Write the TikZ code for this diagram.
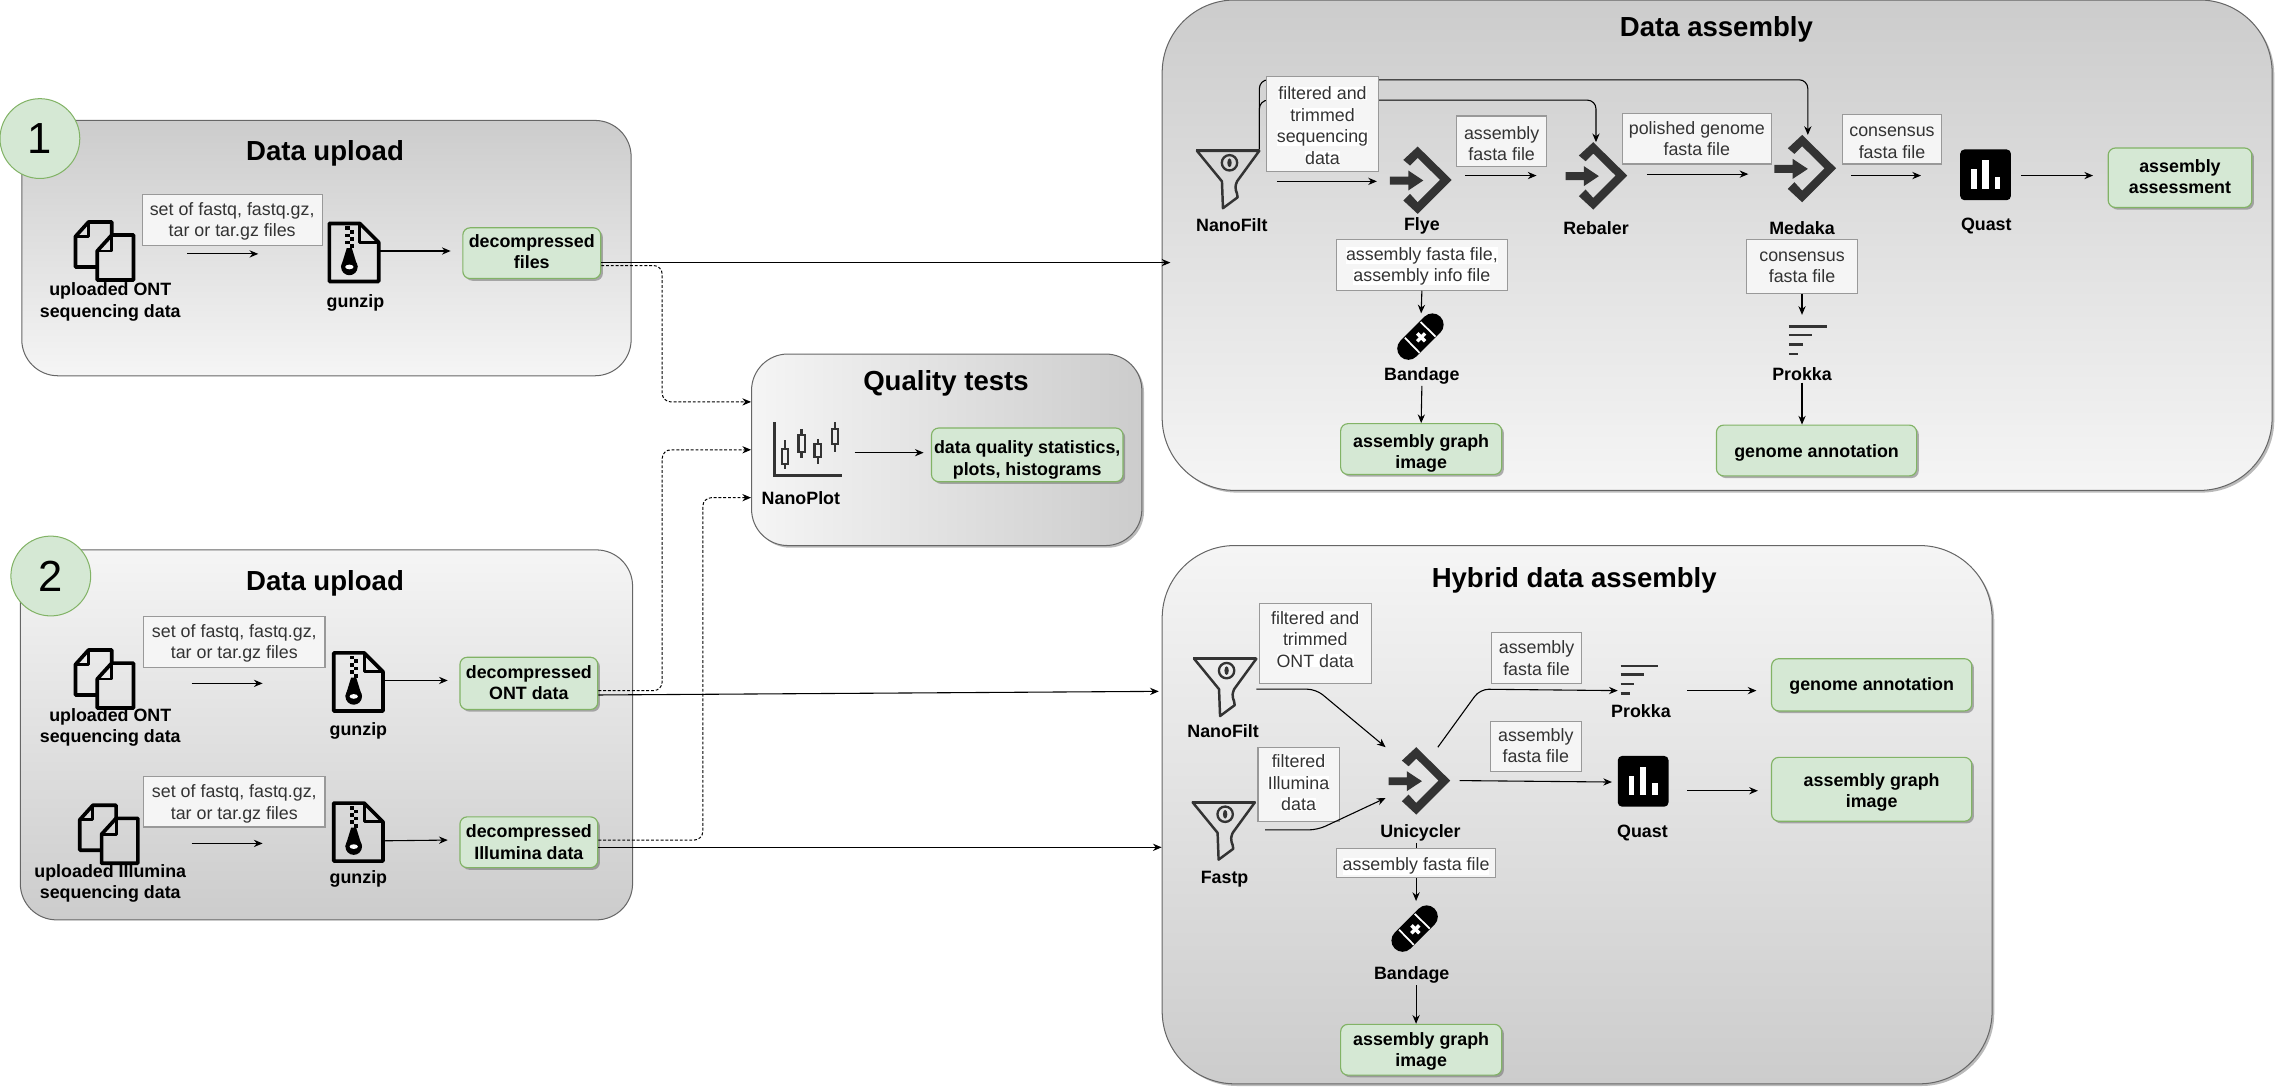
\documentclass[tikz,border=0pt]{standalone}
\usepackage{fontspec}
\setmainfont{Liberation Sans}
\usetikzlibrary{arrows.meta,shadows}
\definecolor{greenfill}{HTML}{D5E8D4}
\definecolor{greenline}{HTML}{82B366}
\definecolor{panelline}{HTML}{666666}
\definecolor{panellight}{HTML}{F5F5F5}
\definecolor{paneldark}{HTML}{CCCCCC}
\definecolor{boxline}{HTML}{999999}
\definecolor{boxtext}{HTML}{333333}
\definecolor{icondark}{HTML}{333333}
\setlength{\fboxsep}{0pt}
\newcommand{\hl}[1]{\colorbox{white}{#1}}
\newcommand{\firstline}[1]{\rule{0pt}{#1pt}}
\tikzset{
  pushup/.style={execute at end node={\rule[-#1pt]{0pt}{#1pt}}},
  panel/.style={draw=panelline, line width=.7pt, rounded corners=25pt, inner sep=0pt},
  bigpanel/.style={panel, rounded corners=50pt, drop shadow={shadow xshift=1.5pt, shadow yshift=-1.5pt, opacity=.45, fill=black!60}},
  darktop/.style={top color=paneldark, bottom color=panellight},
  lighttop/.style={top color=panellight, bottom color=paneldark},
  paneltitle/.style={font=\fontsize{19}{22}\selectfont\bfseries, inner sep=0pt},
  badge/.style={circle, draw=greenline, fill=greenfill, line width=.7pt, minimum size=55pt, inner sep=0pt, font=\fontsize{30}{32}\selectfont},
  filebox/.style={draw=boxline, fill=panellight, line width=.8pt, text=boxtext, align=center, inner sep=0pt, font=\fontsize{12.3}{14.8}\selectfont},
  result/.style={draw=greenline, fill=greenfill, line width=.8pt, rounded corners=5pt, align=center, inner sep=0pt, font=\fontsize{12.3}{14.8}\selectfont\bfseries, drop shadow={shadow xshift=1.5pt, shadow yshift=-1.5pt, opacity=.5, fill=black!60}},
  tool/.style={align=center, inner sep=1pt, font=\fontsize{12.3}{14.8}\selectfont\bfseries},
  icon/.style={inner sep=0pt, outer sep=0pt},
  flow/.style={draw, line width=.75pt, -{Stealth[length=6pt,width=5pt]}},
  bentflow/.style={flow, rounded corners=6pt},
  qualityflow/.style={bentflow, line width=.7pt, dash pattern=on 2pt off 1.3pt},
  pics/docsicon/.style={code={
    \draw[line width=2.5pt, line join=round] (15,31) -- (0,31) -- (0,10) -- (9,0) -- (25,0) -- (25,9);
    \draw[line width=2pt, line join=round] (9,0) -- (9,10) -- (0,10);
    \draw[line width=2.5pt, line join=round] (15,20) -- (25,9) -- (40,9) -- (40,40) -- (15,40) -- cycle;
    \draw[line width=2pt, line join=round] (25,9) -- (25,20) -- (15,20);
  }},
  pics/zipicon/.style={code={
    \draw[line width=2.5pt, line join=round] (1,1) -- (22,1) -- (35,14) -- (35,41) -- (1,41) -- cycle;
    \draw[line width=2pt, line join=round] (22,1) -- (22,14) -- (35,14);
    \foreach \k in {0,1,2} {
      \fill (12,3+\k*5) rectangle ++(2.9,2.5);
      \fill (14.9,5.5+\k*5) rectangle ++(2.9,2.5);
    }
    \fill (13,18) -- (16.5,18) -- (20.5,31) -- (9,31) -- cycle;
    \fill (14.8,31) circle (5.7);
    \fill[white] (14.8,31) ellipse (2.9 and 1.6);
  }},
  pics/funnelicon/.style={code={
    \draw[line width=1.7pt, line join=round, draw=icondark] (1,1) -- (18.2,22) -- (18.9,40.5) -- (29,33) .. controls (29,29) and (26,28) .. (28.6,22) -- (43.9,1) -- cycle;
    \draw[line width=2.2pt, draw=icondark] (0.5,1) -- (44,1);
    \draw[line width=1.6pt, draw=icondark] (23.4,9.2) circle (5.3);
    \fill[icondark] (23.4,9.2) ellipse (1.5 and 3);
  }},
  pics/joinicon/.style={code={
    \fill[icondark] (19.1,0) -- (42.5,23) -- (19.1,46.4) -- (9.2,37.2) -- (13.8,32.6) -- (19.1,38.4) -- (34.5,23) -- (19.1,7.8) -- (13.8,13.1) -- (9.2,9.2) -- cycle;
    \fill[icondark] (0,20.7) -- (12.6,20.7) -- (12.6,16.5) -- (23,23.4) -- (12.6,30.3) -- (12.6,26.2) -- (0,26.2) -- cycle;
  }},
  pics/plastericon/.style={code={
    \draw[line width=15.5pt, line cap=round] (7.75,24.25) -- (24.25,7.75);
    \draw[white, line width=1.2pt] (5.3,16.8) -- (15.4,27.2);
    \draw[white, line width=1.2pt] (16.1,5.9) -- (26.4,16);
    \draw[white, line width=2.4pt] (13.8,13.8) -- (19.2,19.2);
    \draw[white, line width=2.4pt] (13.8,19.2) -- (19.2,13.8);
  }},
  pics/linesicon/.style={code={
    \draw[icondark, line width=1.7pt] (0,1) -- (26,1);
    \draw[icondark, line width=1.7pt] (0,7) -- (16,7);
    \draw[icondark, line width=1.7pt] (0,13.5) -- (9.5,13.5);
    \draw[icondark, line width=1.7pt] (0,20) -- (6.5,20);
  }},
  pics/barsicon/.style={code={
    \fill[rounded corners=3pt] (0,0) rectangle (35,35);
    \fill[white] (7.6,13.8) rectangle (11.4,27);
    \fill[white] (15,7.6) rectangle (19.7,27);
    \fill[white] (23.7,19) rectangle (27.5,27);
  }},
  pics/candleicon/.style={code={
    \draw[icondark, line width=2.2pt] (1,0) -- (1,36.5) -- (47,36.5);
    \foreach \cx/\wa/\ba/\bb/\wb in {8/12.6/18.4/28.7/32, 19.5/4.6/9/20.7/25, 30.6/11.5/15/24/28.7, 42.5/0/4.6/15/20.7} {
      \draw[icondark, line width=1.7pt] (\cx,\wa) -- (\cx,\ba);
      \draw[icondark, line width=1.7pt] (\cx,\bb) -- (\cx,\wb);
      \draw[icondark, line width=1.5pt] (\cx-2.2,\ba) rectangle (\cx+2.2,\bb);
    }
  }}
}
\begin{document}
\begin{tikzpicture}[x=1pt,y=-1pt]
  \useasboundingbox (0,0) rectangle (1568,752);

  \node[panel, darktop, minimum width=420pt, minimum height=176pt] (uploadA) at (225,171) {};
  \node[panel, lighttop, minimum width=422pt, minimum height=255pt] (uploadB) at (225,506.5) {};
  \node[panel, left color=panellight, right color=paneldark, minimum width=269pt, minimum height=132pt, drop shadow={shadow xshift=1.5pt, shadow yshift=-1.5pt, opacity=.45, fill=black!60}] (qualP) at (652.5,310) {};
  \node[bigpanel, darktop, minimum width=765pt, minimum height=338pt] (asmP) at (1183.5,169) {};
  \node[bigpanel, lighttop, minimum width=572pt, minimum height=371pt] (hybP) at (1087,561.5) {};

  \node[badge] (one) at (27.5,95.5) {1};
  \node[badge] (two) at (35,397) {2};
  \node[paneltitle] (titleA) at (224,106) {Data upload};
  \node[paneltitle] (titleB) at (224,402) {Data upload};
  \node[paneltitle] (titleQ) at (652,264) {Quality tests};
  \node[paneltitle] (titleAsm) at (1183,20) {Data assembly};
  \node[paneltitle] (titleHyb) at (1085,400) {Hybrid data assembly};

  \node[icon, minimum width=41pt, minimum height=42pt] (docsA) at (72.5,174) {};
  \pic at (docsA.north west) {docsicon};
  \node[tool] (docsLabA) at (76,208) {uploaded ONT\\sequencing data};
  \node[icon, minimum width=36pt, minimum height=42pt] (gzA) at (244,174) {};
  \pic at (gzA.north west) {zipicon};
  \node[tool] (gzLabA) at (245,209) {gunzip};
  \node[filebox, minimum width=124pt, minimum height=35pt] (setA) at (160,151.5) {\firstline{10.9}set of fastq, fastq.gz,\\tar or tar.gz files};
  \node[result, pushup=2, minimum width=95pt, minimum height=35pt] (filesA) at (366.5,174.5) {decompressed\\files};
  \draw[flow] ([xshift=36,yshift=-1]docsA.east) -- ([xshift=-48,yshift=-1]gzA.west);
  \draw[flow] ([yshift=1]gzA.east) -- ([xshift=-8,yshift=1.5]filesA.west);

  \node[icon, minimum width=41pt, minimum height=42pt] (docsB) at (72.5,469) {};
  \pic at (docsB.north west) {docsicon};
  \node[tool] (docsLabB) at (76,501.5) {uploaded ONT\\sequencing data};
  \node[icon, minimum width=36pt, minimum height=42pt] (gzB) at (247,470) {};
  \pic at (gzB.north west) {zipicon};
  \node[tool] (gzLabB) at (247,504) {gunzip};
  \node[filebox, minimum width=125pt, minimum height=35pt] (setB) at (161.5,442.5) {\firstline{10.9}set of fastq, fastq.gz,\\tar or tar.gz files};
  \node[result, pushup=1, minimum width=95pt, minimum height=36pt] (ontB) at (364.5,471) {decompressed\\ONT data};
  \draw[flow] ([xshift=39,yshift=-2]docsB.east) -- ([xshift=-48,yshift=-1]gzB.west);
  \draw[flow] ([yshift=1]gzB.east) -- ([xshift=-8,yshift=2]ontB.west);

  \node[icon, minimum width=41pt, minimum height=42pt] (docsC) at (75.5,576) {};
  \pic at (docsC.north west) {docsicon};
  \node[tool] (docsLabC) at (76,609) {uploaded Illumina\\sequencing data};
  \node[icon, minimum width=36pt, minimum height=42pt] (gzC) at (247,573.5) {};
  \pic at (gzC.north west) {zipicon};
  \node[tool] (gzLabC) at (247,606) {gunzip};
  \node[filebox, minimum width=125pt, minimum height=35pt] (setC) at (161.5,552.5) {\firstline{11.9}set of fastq, fastq.gz,\\tar or tar.gz files};
  \node[result, minimum width=95pt, minimum height=35pt] (illC) at (364.5,580.5) {decompressed\\Illumina data};
  \draw[flow] ([xshift=36,yshift=-5.3]docsC.east) -- ([xshift=-48,yshift=-7.8]gzC.west);
  \draw[flow] ([yshift=-6]gzC.east) -- ([xshift=-8,yshift=1.5]illC.west);

  \node[icon, minimum width=48pt, minimum height=37pt] (plotQ) at (557,309.5) {};
  \pic at (plotQ.north west) {candleicon};
  \node[tool] (plotLabQ) at (552,343) {NanoPlot};
  \node[result, minimum width=132pt, minimum height=37pt] (statsQ) at (708,313.5) {\firstline{15.9}data quality statistics,\\plots, histograms};
  \draw[flow] ([xshift=8,yshift=-2.5]plotQ.east) -- ([xshift=-5,yshift=1.5]statsQ.west);

  \draw[flow] ([yshift=-6.5]filesA.east) -- ([xshift=6,yshift=-12]asmP.west);
  \draw[qualityflow] ([yshift=-8.5]filesA.east) -- ++(42,0) |- ([yshift=33]qualP.west);
  \draw[flow] ([yshift=-8]ontB.east) -- ([xshift=-2,yshift=85]hybP.west);
  \draw[qualityflow] ([yshift=-5]ontB.east) -- ++(44,0) |- (qualP.west);
  \draw[flow] ([yshift=-3.5]illC.east) -- ([yshift=-22.5]hybP.west);
  \draw[qualityflow] ([yshift=1.5]illC.east) -- ++(72,0) |- ([yshift=-33]qualP.west);

  \node[icon, minimum width=44pt, minimum height=42pt] (filtA) at (846,124) {};
  \pic at (filtA.north west) {funnelicon};
  \node[tool] (filtLabA) at (849,155) {NanoFilt};
  \node[icon, minimum width=43pt, minimum height=46pt] (flyeA) at (979.5,124) {};
  \pic at (flyeA.north west) {joinicon};
  \node[tool] (flyeLabA) at (980,156) {Flye};
  \node[icon, minimum width=42pt, minimum height=46pt] (rebA) at (1100,121) {};
  \pic at (rebA.north west) {joinicon};
  \node[tool] (rebLabA) at (1100,157) {Rebaler};
  \node[icon, minimum width=44pt, minimum height=47pt] (medA) at (1245,116.5) {};
  \pic at (medA.north west) {joinicon};
  \node[tool] (medLabA) at (1242,157) {Medaka};
  \node[icon, minimum width=35pt, minimum height=35pt] (quastA) at (1368.5,120.5) {};
  \pic at (quastA.north west) {barsicon};
  \node[tool] (quastLabA) at (1369,156) {Quast};
  \node[icon, minimum width=33pt, minimum height=33pt] (bandA) at (979.5,232.5) {};
  \pic at (bandA.north west) {plastericon};
  \node[tool] (bandLabA) at (980,259) {Bandage};
  \node[icon, minimum width=26pt, minimum height=21pt] (prokA) at (1246,234.5) {};
  \pic at (prokA.north west) {linesicon};
  \node[tool] (prokLabA) at (1242,258) {Prokka};

  \draw[bentflow] (filtA.north east) -- ++(0,-48) -| ([xshift=1]medA.north);
  \draw[bentflow] (filtA.north east) -- ++(0,-34) -| (rebA.north);

  \node[filebox, minimum width=77pt, minimum height=65pt] (seqA) at (911.5,85.5) {\firstline{10.9}\hl{filtered and}\\\hl{trimmed}\\\hl{sequencing}\\\hl{data}};
  \node[filebox, minimum width=62pt, minimum height=35pt] (fastaA) at (1035,97.5) {\firstline{11.9}assembly\\fasta file};
  \node[filebox, minimum width=103pt, minimum height=35pt] (polA) at (1169.5,95.5) {polished genome\\fasta file};
  \node[filebox, minimum width=68pt, minimum height=34pt] (consA) at (1304,96) {\firstline{11.4}consensus\\fasta file};
  \node[filebox, minimum width=118pt, minimum height=35pt] (infoA) at (980,182.5) {\firstline{10.9}\hl{assembly fasta file,}\\\hl{assembly info file}};
  \node[filebox, minimum width=76pt, minimum height=37pt] (consB) at (1242,183.5) {\firstline{8.4}consensus\\fasta file};
  \node[result, pushup=2, minimum width=99pt, minimum height=41pt] (assessA) at (1502.5,122.5) {assembly\\assessment};
  \node[result, minimum width=111pt, minimum height=35pt] (imgA) at (979.5,309.5) {\firstline{14.9}assembly graph\\image};
  \node[result, minimum width=138pt, minimum height=35pt] (annA) at (1252,310.5) {\firstline{12.9}genome annotation};

  \draw[flow] ([xshift=12,yshift=-1]filtA.east) -- ([xshift=-9,yshift=-1]flyeA.west);
  \draw[flow] ([xshift=9,yshift=3]flyeA.east) -- ([xshift=-20]rebA.west);
  \draw[flow] ([xshift=14,yshift=1]rebA.east) -- ([xshift=-18,yshift=-3.5]medA.west);
  \draw[flow] ([xshift=9,yshift=-4.5]medA.east) -- ([xshift=-27,yshift=-.5]quastA.west);
  \draw[flow] ([xshift=7,yshift=-.5]quastA.east) -- ([xshift=-10,yshift=1.5]assessA.west);
  \draw[flow] (infoA.south) -- (bandA.north);
  \draw[flow] (bandLabA.south) -- (imgA.north);
  \draw[flow] (consB.south) -- ([xshift=-4,yshift=7]prokA.north);
  \draw[flow] (prokLabA.south) -- ([xshift=-10]annA.north);

  \node[icon, minimum width=44pt, minimum height=44pt] (filtB) at (844,475) {};
  \pic at (filtB.north west) {funnelicon};
  \node[tool] (filtLabB) at (843,504) {NanoFilt};
  \node[icon, minimum width=43pt, minimum height=42pt] (fastpB) at (842.5,573) {};
  \pic at (fastpB.north west) {funnelicon};
  \node[tool] (fastpLabB) at (844,606) {Fastp};
  \node[icon, minimum width=43pt, minimum height=45pt] (uniB) at (978.5,537.5) {};
  \pic at (uniB.north west) {joinicon};
  \node[tool] (uniLabB) at (979,574) {Unicycler};
  \node[icon, minimum width=26pt, minimum height=21pt] (prokB) at (1130,468.5) {};
  \pic at (prokB.north west) {linesicon};
  \node[tool] (prokLabB) at (1131,490) {Prokka};
  \node[icon, minimum width=35pt, minimum height=35pt] (quastB) at (1132.5,538.5) {};
  \pic at (quastB.north west) {barsicon};
  \node[tool] (quastLabB) at (1132,574) {Quast};
  \node[icon, minimum width=33pt, minimum height=33pt] (bandB) at (975.5,640.5) {};
  \pic at (bandB.north west) {plastericon};
  \node[tool] (bandLabB) at (973,672) {Bandage};

  \node[filebox, pushup=6, minimum width=77pt, minimum height=55pt] (ontD) at (906.5,443.5) {\hl{filtered and}\\\hl{trimmed}\\\hl{ONT data}};
  \node[filebox, pushup=2, minimum width=56pt, minimum height=51pt] (illD) at (895,540.5) {\hl{filtered}\\\hl{Illumina}\\\hl{data}};
  \node[filebox, minimum width=62pt, minimum height=35pt] (fastaD) at (1059,453.5) {assembly\\fasta file};
  \node[filebox, pushup=1, minimum width=63pt, minimum height=35pt] (fastaE) at (1058.5,514.5) {assembly\\fasta file};
  \node[filebox, minimum width=110pt, minimum height=20pt] (fileB) at (976,595) {\firstline{12.9}\hl{assembly fasta file}};
  \node[result, minimum width=138pt, minimum height=36pt] (genB) at (1290,472) {\firstline{10.9}genome annotation};
  \node[result, minimum width=138pt, minimum height=44pt] (imgB) at (1290,544) {\firstline{12.9}assembly graph\\image};
  \node[result, minimum width=111pt, minimum height=35pt] (imgC) at (979.5,723.5) {\firstline{10.9}assembly graph\\image};

  \draw[bentflow] (filtB.east) -- ++(41,0) -- ([xshift=-2]uniB.north west);
  \draw[bentflow] ([xshift=8,yshift=1]fastpB.east) -- ++(36,0) -- ([xshift=-2,yshift=-12.5]uniB.west);
  \draw[bentflow] ([xshift=12.5]uniB.north) -- ++(29,-40) -- ([xshift=-2,yshift=-7.5]prokB.west);
  \draw[flow] ([xshift=6,yshift=-.5]uniB.east) -- ([xshift=-4,yshift=-.5]quastB.west);
  \draw[flow] ([xshift=20,yshift=-7.5]prokB.east) -- ([xshift=-10,yshift=-4]genB.west);
  \draw[flow] ([xshift=13,yshift=-6.5]quastB.east) -- ([xshift=-9,yshift=-1]imgB.west);
  \draw (uniLabB.south -| fileB.north) -- (fileB.north);
  \draw[flow] (fileB.south) -- ([xshift=.5,yshift=3]bandB.north);
  \draw[flow] ([xshift=3]bandLabB.south) -- ([xshift=-3.5]imgC.north);
\end{tikzpicture}
\end{document}
